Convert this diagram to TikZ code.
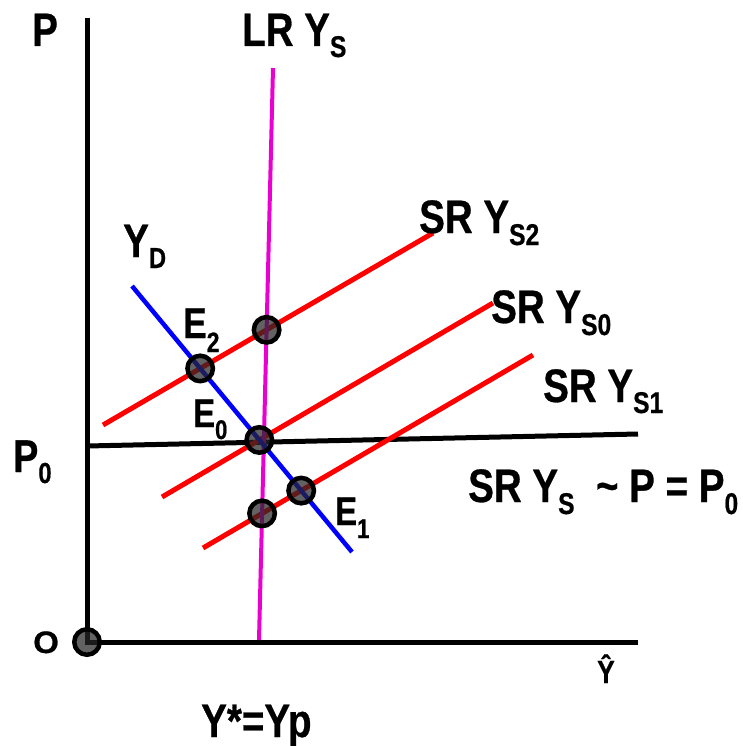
\documentclass[tikz,border=0pt]{standalone}
\usepackage{fontspec}
\setmainfont{Liberation Sans}[FakeStretch=0.82, BoldFeatures={FakeBold=0.6}]
\usetikzlibrary{intersections}
\definecolor{lrmag}{RGB}{235,0,210}
\newcommand\mysubtxt[3]{\raisebox{-#2}{\fontsize{#1}{#1}\selectfont #3}}
\tikzset{
  lbl/.style={anchor=base west, inner sep=0pt, font=\bfseries\fontsize{47}{47}\selectfont},
  small/.style={anchor=base west, inner sep=0pt, font=\bfseries\fontsize{40}{40}\selectfont},
  axis/.style={line width=5pt, black},
  srline/.style={line width=5pt, red},
  dot/.style={circle, draw=black, line width=4.5pt, fill=black!85, fill opacity=0.72, minimum size=25.5pt, inner sep=0pt}
}
\begin{document}
\begin{tikzpicture}[x=1pt,y=-1pt]
\useasboundingbox (0,0) rectangle (742,746);
% coordinates
\coordinate (ytop) at (87,18);
\coordinate (o) at (87,642);
\coordinate (xend) at (638,642);
\coordinate (p0l) at (87,446);
\coordinate (p0r) at (638,434);
\coordinate (lrt) at (273,68);
\coordinate (lrb) at (259,640);
\coordinate (ydt) at (132,286);
\coordinate (ydb) at (352,552);
\coordinate (s2a) at (103,425);
\coordinate (s2b) at (433,233);
\coordinate (s0a) at (162,497);
\coordinate (s0b) at (493,303);
\coordinate (s1a) at (203,548);
\coordinate (s1b) at (533,355);
% lines
\draw[axis] (ytop) -- (o) -- (xend);
\draw[axis] (p0l) -- (p0r);
\draw[srline, name path=S2] (s2a) -- (s2b);
\draw[srline, name path=S0] (s0a) -- (s0b);
\draw[srline, name path=S1] (s1a) -- (s1b);
\draw[line width=4pt, lrmag, name path=LR] (lrt) -- (lrb);
\draw[line width=4.5pt, blue, name path=YD] (ydt) -- (ydb);
% intersections
\path[name intersections={of=YD and S2, by=e2}];
\path[name intersections={of=LR and S2, by=top}];
\path[name intersections={of=YD and S0, by=e0}];
\path[name intersections={of=YD and S1, by=e1}];
\path[name intersections={of=LR and S1, by=bot}];
\node[dot] (E2) at (e2) {};
\node[dot] (Top) at (top) {};
\node[dot] (E0) at (e0) {};
\node[dot] (E1) at (e1) {};
\node[dot] (Bot) at (bot) {};
\node[dot] (O) at (o) {};
% labels
\node[lbl] (lP) at (32,46) {P};
\node[lbl] (lLR) at (242,46) {LR Y\mysubtxt{30pt}{11pt}{S}};
\node[lbl] (lS2) at (419,233) {SR Y\mysubtxt{30pt}{12pt}{S2}};
\node[lbl] (lS0) at (491,323) {SR Y\mysubtxt{30pt}{12pt}{S0}};
\node[lbl] (lS1) at (543,402) {SR Y\mysubtxt{30pt}{11pt}{S1}};
\node[lbl] (lYD) at (123,257) {Y\mysubtxt{29pt}{11pt}{D}};
\node[small, font=\bfseries\fontsize{43}{43}\selectfont] (lE2) at (183,338) {E\mysubtxt{28pt}{14pt}{2}};
\node[small] (lE0) at (193,427) {E\mysubtxt{27pt}{12pt}{0}};
\node[small] (lE1) at (335,525) {E\mysubtxt{27pt}{13pt}{1}};
\node[lbl, font=\bfseries\fontsize{46}{46}\selectfont] (lP0) at (13,472) {P\mysubtxt{29pt}{11pt}{0}};
\node[anchor=base west, inner sep=0pt, font=\bfseries\fontsize{31}{31}\selectfont] (lO) at (33,653) {\scalebox{1.3}[1]{O}};
\node[anchor=base, inner sep=0pt, font=\bfseries\fontsize{32}{32}\selectfont] (lYhat) at (606,683) {Ŷ};
\node[lbl] (lYstar) at (201,737) {Y*=Yp};
\node[lbl] (lSR) at (468,502) {SR Y\mysubtxt{30pt}{12pt}{S}\ \ \textasciitilde\ P = P\mysubtxt{30pt}{12pt}{0}};
\end{tikzpicture}
\end{document}
